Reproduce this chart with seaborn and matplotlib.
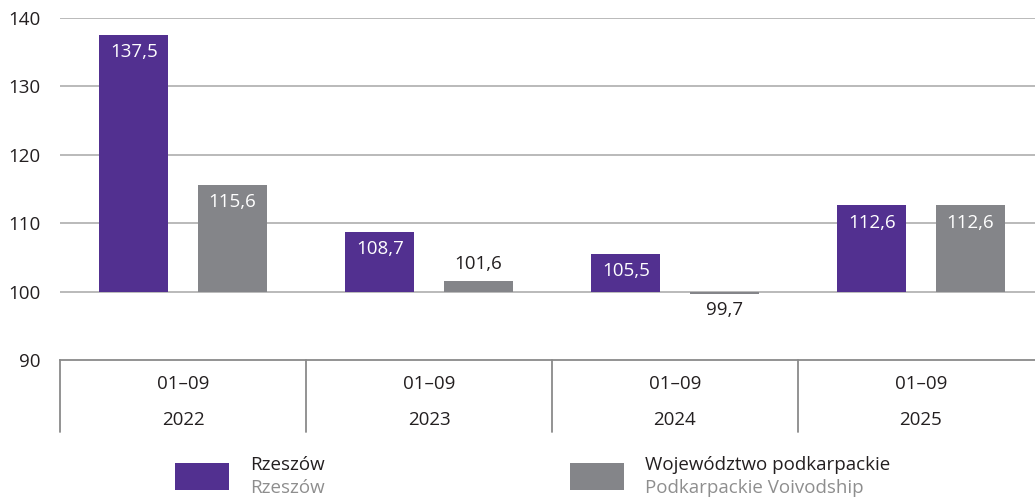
import matplotlib
matplotlib.use("Agg")
import matplotlib.pyplot as plt
from matplotlib.patches import Rectangle
from matplotlib.ticker import FuncFormatter
import seaborn as sns
import pandas as pd

periods = ["01–09", "01–09", "01–09", "01–09"]
years = ["2022", "2023", "2024", "2025"]
rzeszow = [137.5, 108.7, 105.5, 112.6]
podkarpackie = [115.6, 101.6, 99.7, 112.6]
series_pl = ["Rzeszów", "Województwo podkarpackie"]
series_en = ["Rzeszów", "Podkarpackie Voivodship"]
yticks = [90, 100, 110, 120, 130, 140]
base = 100

purple = "#523090"
gray = "#848589"
dark = "#231f20"
grid_c = "#a7a7a7"
fs = 13.5

sns.set_theme(style="white")
plt.rcParams["font.family"] = ["Open Sans", "DejaVu Sans"]

rows = []
for i, y in enumerate(years):
    rows.append({"year": y, "series": series_pl[0], "value": rzeszow[i]})
    rows.append({"year": y, "series": series_pl[1], "value": podkarpackie[i]})
df = pd.DataFrame(rows)
df["diff"] = df["value"] - base

fig = plt.figure(figsize=(10.35, 4.97), dpi=100)
ax = fig.add_axes([60 / 1035, 1 - 360 / 497, 984 / 1035, (360 - 18) / 497])

sns.barplot(data=df, x="year", y="diff", hue="series", order=years,
            hue_order=series_pl, palette=[purple, gray], width=0.8, gap=0.3,
            saturation=1, ax=ax, legend=False, zorder=3, linewidth=0,
            edgecolor="none")

ax.set_ylim(yticks[0] - base, yticks[-1] - base)
ax.set_xlim(-0.5, len(years) - 0.5)
ax.set_yticks([t - base for t in yticks])
ax.yaxis.set_major_formatter(FuncFormatter(lambda v, p: f"{v + base:.0f}"))
ax.tick_params(axis="y", length=0, pad=14, labelsize=fs, labelcolor=dark)
ax.set_xticks([])
ax.set_xlabel("")
ax.set_ylabel("")
for s in ["top", "right", "left"]:
    ax.spines[s].set_visible(False)
ax.spines["bottom"].set_color("#8a8a8a")
ax.spines["bottom"].set_linewidth(1.3)
for t in yticks[1:]:
    ax.axhline(t - base, color=grid_c, lw=1.1, zorder=1)

# value labels
for container in ax.containers:
    for bar in container:
        h = bar.get_height()
        xc = bar.get_x() + bar.get_width() / 2
        val = h + base
        txt = f"{val:.1f}".replace(".", ",")
        if h >= 4:
            ax.annotate(txt, (xc, h), xytext=(0, -12.5), textcoords="offset points",
                        ha="center", va="center", color="white", fontsize=fs)
        elif h >= 0:
            ax.annotate(txt, (xc, h), xytext=(0, 12), textcoords="offset points",
                        ha="center", va="center", color=dark, fontsize=fs)
        else:
            ax.annotate(txt, (xc, h), xytext=(0, -12), textcoords="offset points",
                        ha="center", va="center", color=dark, fontsize=fs)

# category table below axis
trans = ax.get_xaxis_transform()
for b in range(len(years)):
    ax.plot([b - 0.5, b - 0.5], [0, -72 / 342], transform=trans, color="#8a8a8a",
            lw=1.3, clip_on=False)
for i, (p, y) in enumerate(zip(periods, years)):
    ax.text(i, -24 / 342, p, transform=trans, ha="center", va="center",
            fontsize=fs, color=dark)
    ax.text(i, -60 / 342, y, transform=trans, ha="center", va="center",
            fontsize=fs, color=dark)

# legend
leg_items = [(175, purple, 0), (570, gray, 1)]
for x0, col, k in leg_items:
    fig.add_artist(Rectangle((x0 / 1035, 1 - 490 / 497), 54 / 1035, 27 / 497,
                             transform=fig.transFigure, color=col, lw=0))
    fig.text((x0 + 75) / 1035, 1 - 465 / 497, series_pl[k], ha="left", va="center",
             fontsize=fs, color=dark)
    fig.text((x0 + 75) / 1035, 1 - 488 / 497, series_en[k], ha="left", va="center",
             fontsize=fs, color="#8e8e8e")

fig.savefig("out.png", dpi=100)
